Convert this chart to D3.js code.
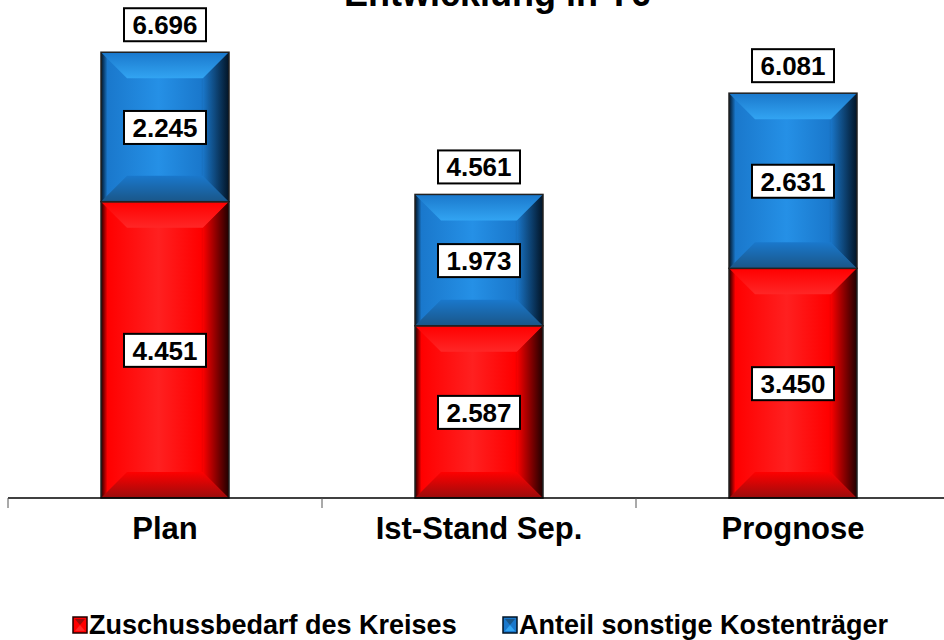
<!DOCTYPE html>
<html>
<head>
<meta charset="utf-8">
<script src="https://cdn.jsdelivr.net/npm/d3@7"></script>
<style>
  body { margin: 0; background: #fff; }
  svg { font-family: "Liberation Sans", Arial, sans-serif; font-weight: bold; }
</style>
</head>
<body>
<div id="chart"></div>
<script>
const categories = ["Plan", "Ist-Stand Sep.", "Prognose"];
const zuschuss = [4451, 2587, 3450];
const anteil = [2245, 1973, 2631];
const totals = [6696, 4561, 6081];
const seriesNames = ["Zuschussbedarf des Kreises", "Anteil sonstige Kostenträger"];

const width = 944, height = 640;
const base = 498;

const de = d3.formatLocale({ decimal: ",", thousands: ".", grouping: [3], currency: ["", " €"] });
const fmt = de.format(",d");

const svg = d3.select("#chart")
  .append("svg")
  .attr("width", width)
  .attr("height", height);

const defs = svg.append("defs");

// colour themes for the bevelled bars
const themes = {
  red: { mid: "#ff0000", light: "#ff2020", top: "#ff2626", bottom: "#9a0c0c", dark: "#200000" },
  blue: { mid: "#1a78cc", light: "#2590e6", top: "#32a4f2", bottom: "#1a5688", dark: "#021426" }
};

Object.entries(themes).forEach(([k, c]) => {
  const g = defs.append("linearGradient").attr("id", "h-" + k)
    .attr("x1", 0).attr("x2", 1).attr("y1", 0).attr("y2", 0);
  g.append("stop").attr("offset", "0%").attr("stop-color", c.dark);
  g.append("stop").attr("offset", "5%").attr("stop-color", c.mid);
  g.append("stop").attr("offset", "45%").attr("stop-color", c.light);
  g.append("stop").attr("offset", "78%").attr("stop-color", c.mid);
  g.append("stop").attr("offset", "100%").attr("stop-color", c.dark);

  const t = defs.append("linearGradient").attr("id", "t-" + k)
    .attr("x1", 0).attr("x2", 0).attr("y1", 0).attr("y2", 1);
  t.append("stop").attr("offset", "0%").attr("stop-color", c.mid);
  t.append("stop").attr("offset", "100%").attr("stop-color", c.top);

  const b = defs.append("linearGradient").attr("id", "b-" + k)
    .attr("x1", 0).attr("x2", 0).attr("y1", 0).attr("y2", 1);
  b.append("stop").attr("offset", "0%").attr("stop-color", c.mid);
  b.append("stop").attr("offset", "100%").attr("stop-color", c.bottom);

  const r = defs.append("linearGradient").attr("id", "r-" + k)
    .attr("x1", 0).attr("x2", 1).attr("y1", 0).attr("y2", 0);
  r.append("stop").attr("offset", "0%").attr("stop-color", c.mid);
  r.append("stop").attr("offset", "100%").attr("stop-color", c.dark);
});

const x = d3.scaleBand()
  .domain(categories)
  .range([8, 950])
  .padding(0);

const y = d3.scaleLinear()
  .domain([0, 7000])
  .range([base, 32]);

const barW = 128;

// title (cut off at the top like the original)
svg.append("text")
  .attr("x", 497)
  .attr("y", 6)
  .attr("text-anchor", "middle")
  .attr("font-size", 36)
  .text("Entwicklung in T€");

function bevelBar(g, x0, y0, w, h, theme) {
  const bv = Math.min(26, h / 2, w / 2);
  const x1 = x0 + w, y1 = y0 + h;
  g.append("rect").attr("x", x0).attr("y", y0).attr("width", w).attr("height", h)
    .attr("fill", `url(#h-${theme})`);
  // top bevel
  g.append("path")
    .attr("d", `M${x0},${y0}L${x1},${y0}L${x1 - bv},${y0 + bv}L${x0 + bv},${y0 + bv}Z`)
    .attr("fill", `url(#t-${theme})`);
  // bottom bevel
  g.append("path")
    .attr("d", `M${x0},${y1}L${x1},${y1}L${x1 - bv},${y1 - bv}L${x0 + bv},${y1 - bv}Z`)
    .attr("fill", `url(#b-${theme})`);
  // right bevel
  g.append("path")
    .attr("d", `M${x1},${y0}L${x1},${y1}L${x1 - bv},${y1 - bv}L${x1 - bv},${y0 + bv}Z`)
    .attr("fill", `url(#r-${theme})`).attr("opacity", 0.7);
  g.append("rect").attr("x", x0).attr("y", y0).attr("width", w).attr("height", h)
    .attr("fill", "none").attr("stroke", "#222").attr("stroke-width", 1.5);
}

function labelBox(g, cx, cy, txt) {
  g.append("rect")
    .attr("x", cx - 41).attr("y", cy - 16)
    .attr("width", 82).attr("height", 33)
    .attr("fill", "#fff").attr("stroke", "#000").attr("stroke-width", 2);
  g.append("text")
    .attr("x", cx).attr("y", cy + 1)
    .attr("text-anchor", "middle")
    .attr("dominant-baseline", "central")
    .attr("font-size", 26)
    .text(txt);
}

const bars = svg.append("g");
categories.forEach((c, i) => {
  const cx = x(c) + x.bandwidth() / 2;
  const x0 = cx - barW / 2;
  const g = bars.append("g");
  const yRedTop = y(zuschuss[i]);
  const yBlueTop = y(zuschuss[i] + anteil[i]);
  bevelBar(g, x0, yRedTop, barW, y(0) - yRedTop, "red");
  bevelBar(g, x0, yBlueTop, barW, yRedTop - yBlueTop, "blue");
});

// axis
const axis = svg.append("g");
axis.append("line").attr("x1", 8).attr("x2", width).attr("y1", base).attr("y2", base)
  .attr("stroke", "#000").attr("stroke-width", 1.5);
[...categories.map(c => x(c)), x.range()[1]].forEach(v => {
  axis.append("line").attr("x1", v).attr("x2", v).attr("y1", base).attr("y2", base + 10)
    .attr("stroke", "#555").attr("stroke-width", 1);
});
categories.forEach(c => {
  axis.append("text")
    .attr("x", x(c) + x.bandwidth() / 2)
    .attr("y", 539)
    .attr("text-anchor", "middle")
    .attr("font-size", 31)
    .text(c);
});

// labels
const labels = svg.append("g");
categories.forEach((c, i) => {
  const cx = x(c) + x.bandwidth() / 2;
  labelBox(labels, cx, (y(0) + y(zuschuss[i])) / 2, fmt(zuschuss[i]));
  labelBox(labels, cx, (y(zuschuss[i]) + y(zuschuss[i] + anteil[i])) / 2, fmt(anteil[i]));
  labelBox(labels, cx, y(zuschuss[i] + anteil[i]) - 28, fmt(totals[i]));
});

// Legend
const legendData = [
  { label: seriesNames[0], theme: "red", x: 73 },
  { label: seriesNames[1], theme: "blue", x: 503 }
];
const legend = svg.append("g").attr("class", "legend");
legendData.forEach(d => {
  const g = legend.append("g").attr("transform", `translate(${d.x},617)`);
  const c = themes[d.theme];
  g.append("rect").attr("width", 14).attr("height", 16).attr("fill", c.mid)
    .attr("stroke", c.dark).attr("stroke-width", 1.5);
  g.append("path").attr("d", "M2,2L12,2L7,8Z").attr("fill", c.bottom);
  g.append("path").attr("d", "M2,14L12,14L7,8Z").attr("fill", c.top);
  g.append("text").attr("x", 16).attr("y", 17).attr("font-size", 27).text(d.label);
});
</script>
</body>
</html>
